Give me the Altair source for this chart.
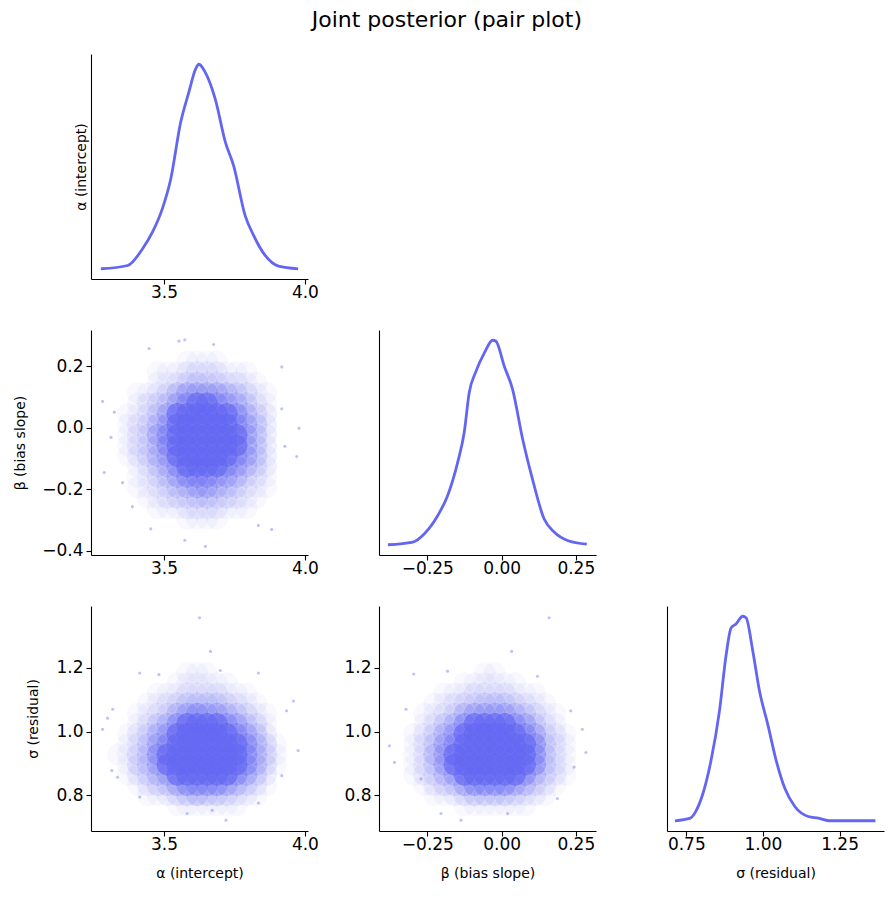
import altair as alt
import pandas as pd

TITLE = "Joint posterior (pair plot)"
LABEL_A = "α (intercept)"
LABEL_B = "β (bias slope)"
LABEL_S = "σ (residual)"
COLOR = "#6366f1"
FONT = "DejaVu Sans"

# ---- marginal KDE curves (relative height) ----
A_KDE_X = [3.276, 3.371, 3.424, 3.459, 3.494, 3.524, 3.559, 3.588, 3.612, 3.624, 3.647,
           3.682, 3.718, 3.747, 3.788, 3.818, 3.859, 3.906, 3.976]
A_KDE_Y = [0.0, 0.016, 0.098, 0.179, 0.293, 0.439, 0.715, 0.862, 0.976, 1.0, 0.959,
           0.829, 0.618, 0.504, 0.260, 0.163, 0.065, 0.013, 0.0]

B_KDE_X = [-0.383, -0.299, -0.260, -0.215, -0.182, -0.148, -0.126, -0.109, -0.086, -0.058,
           -0.030, -0.019, 0.009, 0.037, 0.071, 0.104, 0.143, 0.177, 0.222, 0.287]
B_KDE_Y = [0.0, 0.013, 0.054, 0.143, 0.240, 0.403, 0.549, 0.744, 0.849, 0.938,
           1.0, 0.995, 0.873, 0.760, 0.516, 0.321, 0.127, 0.062, 0.021, 0.003]

S_KDE_X = [0.713, 0.763, 0.781, 0.803, 0.830, 0.858, 0.880, 0.896, 0.912, 0.934, 0.945,
           0.967, 0.989, 1.016, 1.044, 1.071, 1.104, 1.148, 1.181, 1.219, 1.367]
S_KDE_Y = [0.0, 0.013, 0.046, 0.127, 0.290, 0.535, 0.812, 0.943, 0.962, 1.0, 0.992,
           0.829, 0.633, 0.470, 0.290, 0.160, 0.070, 0.021, 0.013, 0.0, 0.0]

# ---- axis domains and ticks ----
A_DOMAIN = [3.241, 4.011]
B_DOMAIN = [-0.413, 0.318]
S_DOMAIN = [0.687, 1.395]
KDE_DOMAIN = [-0.05, 1.05]
A_TICKS = [3.5, 4.0]
B_TICKS_X = [-0.25, 0.0, 0.25]
B_TICKS_Y = [-0.4, -0.2, 0.0, 0.2]
S_TICKS_X = [0.75, 1.0, 1.25]
S_TICKS_Y = [0.8, 1.0, 1.2]

# ---- density grids of the sample clouds (0 = empty, 9 = solid) ----
A_EDGES = [3.285, 3.32, 3.355, 3.39, 3.425, 3.46, 3.495, 3.53, 3.565, 3.60, 3.635,
           3.67, 3.705, 3.74, 3.775, 3.81, 3.845, 3.88, 3.915, 3.95, 3.985]
B_EDGES = [-0.38, -0.346, -0.312, -0.278, -0.244, -0.21, -0.176, -0.142, -0.108, -0.074,
           -0.04, -0.006, 0.028, 0.062, 0.096, 0.13, 0.164, 0.198, 0.232, 0.266, 0.30]
S_EDGES = [0.72, 0.752, 0.784, 0.816, 0.848, 0.88, 0.912, 0.944, 0.976, 1.008, 1.04,
           1.072, 1.104, 1.136, 1.168, 1.20, 1.232, 1.264, 1.296, 1.328, 1.36]

# rows run from the top (highest y) down, columns from left to right
AB_GRID = [
    "00000000000000000000",
    "00000000000000000000",
    "00000000111100000000",
    "00000111222211100000",
    "00000112343322110000",
    "00011235666654311000",
    "00012346788765421000",
    "00112468898887532000",
    "00123568999987642000",
    "00123678999988642000",
    "00123578999988642000",
    "00123568999887642000",
    "00012457888876532000",
    "00011346777665321000",
    "00011234566543211000",
    "00001123344332110000",
    "00000111222211100000",
    "00000000111100000000",
    "00000000000000000000",
    "00000000000000000000",
]
AS_GRID = [
    "00000000000000000000",
    "00000000000000000000",
    "00000000000000000000",
    "00000000000000000000",
    "00000000000000000000",
    "00000000111000000000",
    "00000001111110000000",
    "00000111222211100000",
    "00001123444432110000",
    "00011235676654311000",
    "00012457888876431000",
    "00123568999887642000",
    "00124679999998753100",
    "01134789999998753100",
    "00134689999998753100",
    "00123568999887642000",
    "00012346777765321000",
    "00001123454432210000",
    "00000001111111000000",
    "00000000000000000000",
]
BS_GRID = [
    "00000000000000000000",
    "00000000000000000000",
    "00000000000000000000",
    "00000000000000000000",
    "00000000000000000000",
    "00000000011000000000",
    "00000001111110000000",
    "00000111222211100000",
    "00001123344432110000",
    "00011235666654311000",
    "00012457888876421000",
    "00123568899887632100",
    "00124678999998742100",
    "00125689999998742100",
    "00124689999998742100",
    "00123568899887532100",
    "00012346777765321000",
    "00001123444432210000",
    "00000001111111000000",
    "00000000000000000000",
]

# ---- scattered single samples outside the dense cloud ----
AB_OUT_A = [3.282, 3.312, 3.288, 3.447, 3.553, 3.574, 3.676, 3.918, 3.979, 3.971, 3.929,
            3.882, 3.835, 3.574, 3.647, 3.453, 3.388, 3.353, 3.324, 3.918]
AB_OUT_B = [0.086, -0.031, -0.145, 0.258, 0.282, 0.286, 0.271, 0.198, -0.001, -0.093, -0.06,
            -0.33, -0.317, -0.365, -0.385, -0.328, -0.256, -0.178, 0.051, 0.062]
AS_OUT_A = [3.626, 3.665, 3.282, 3.300, 3.318, 3.335, 3.315, 3.959, 3.976, 3.935, 3.918,
            3.835, 3.720, 3.582, 3.414, 3.482, 3.700, 3.835, 3.414, 3.671]
AS_OUT_S = [1.358, 1.252, 1.007, 1.042, 1.070, 0.856, 0.877, 1.096, 0.940, 1.065, 0.861,
            0.775, 0.721, 0.742, 1.184, 1.179, 1.192, 1.184, 0.794, 0.752]
BS_OUT_B = [0.160, 0.034, -0.378, -0.361, -0.296, -0.322, -0.204, -0.137, 0.020, 0.284,
            0.272, 0.233, 0.121, 0.188, -0.182, 0.244, -0.271]
BS_OUT_S = [1.358, 1.252, 0.955, 0.903, 1.181, 1.070, 0.742, 0.721, 0.742, 0.934,
            1.007, 1.065, 1.174, 0.789, 1.190, 0.888, 0.851]

W, H = 217, 225
GLYPH_SIZE = 480      # heavily overlapping soft glyphs, one per grid cell
OVERLAP = 4.7         # roughly how many glyphs cover one spot


def grid_frame(grid, x_edges, y_edges):
    rows = []
    n = len(grid)
    for i, line in enumerate(grid):
        yi = n - 1 - i
        for j, ch in enumerate(line):
            d = int(ch)
            if d > 0:
                target = min(0.995, 1.1 * (d / 9.0) ** 0.8)
                rows.append({"x": (x_edges[j] + x_edges[j + 1]) / 2,
                             "y": (y_edges[yi] + y_edges[yi + 1]) / 2,
                             "o": 1 - (1 - target) ** (1.0 / OVERLAP)})
    return pd.DataFrame(rows)


def scale(domain):
    return alt.Scale(domain=domain, nice=False, zero=False)


def axis(ticks, fmt, title, **kw):
    if title:
        return alt.Axis(values=ticks, format=fmt, title=title, **kw)
    return alt.Axis(values=ticks, format=fmt, title=None, **kw)


def scatter(grid, xe, ye, ox, oy, xdom, ydom, xt, xf, yt, yf, xtitle, ytitle, ytp=6):
    cells = grid_frame(grid, xe, ye)
    pts = pd.DataFrame({"x": ox, "y": oy})
    xa = axis(xt, xf, xtitle)
    ya = axis(yt, yf, ytitle, titlePadding=ytp)
    cloud = alt.Chart(cells).mark_circle(color=COLOR, size=GLYPH_SIZE).encode(
        x=alt.X("x:Q", scale=scale(xdom), axis=xa),
        y=alt.Y("y:Q", scale=scale(ydom), axis=ya),
        opacity=alt.Opacity("o:Q", scale=None, legend=None),
    )
    dots = alt.Chart(pts).mark_circle(color=COLOR, size=10, opacity=0.4).encode(
        x=alt.X("x:Q", scale=scale(xdom)),
        y=alt.Y("y:Q", scale=scale(ydom)),
    )
    return alt.layer(cloud, dots).properties(width=W, height=H)


def diag(kx, ky, xdom, xt, xf, xtitle, ytitle):
    df = pd.DataFrame({"x": kx, "y": ky})
    if ytitle:
        ya = alt.Axis(ticks=False, labels=False, title=ytitle, titlePadding=3)
    else:
        ya = alt.Axis(ticks=False, labels=False, title=None)
    return alt.Chart(df).mark_line(color=COLOR, strokeWidth=2.8, interpolate="monotone").encode(
        x=alt.X("x:Q", scale=scale(xdom), axis=axis(xt, xf, xtitle)),
        y=alt.Y("y:Q", scale=scale(KDE_DOMAIN), axis=ya),
    ).properties(width=W, height=H)


def empty():
    df = pd.DataFrame({"v": [0]})
    return alt.Chart(df).mark_point(opacity=0).encode(
        x=alt.X("v:Q", axis=None), y=alt.Y("v:Q", axis=None)
    ).properties(width=W, height=H)


cells = [
    diag(A_KDE_X, A_KDE_Y, A_DOMAIN, A_TICKS, ".1f", None, LABEL_A),
    empty(),
    empty(),
    scatter(AB_GRID, A_EDGES, B_EDGES, AB_OUT_A, AB_OUT_B, A_DOMAIN, B_DOMAIN,
            A_TICKS, ".1f", B_TICKS_Y, ".1f", None, LABEL_B, ytp=14),
    diag(B_KDE_X, B_KDE_Y, B_DOMAIN, B_TICKS_X, ".2f", None, None),
    empty(),
    scatter(AS_GRID, A_EDGES, S_EDGES, AS_OUT_A, AS_OUT_S, A_DOMAIN, S_DOMAIN,
            A_TICKS, ".1f", S_TICKS_Y, ".1f", LABEL_A, LABEL_S, ytp=15),
    scatter(BS_GRID, B_EDGES, S_EDGES, BS_OUT_B, BS_OUT_S, B_DOMAIN, S_DOMAIN,
            B_TICKS_X, ".2f", S_TICKS_Y, ".1f", LABEL_B, None),
    diag(S_KDE_X, S_KDE_Y, S_DOMAIN, S_TICKS_X, ".2f", LABEL_S, None),
]

chart = alt.concat(
    *cells,
    columns=3,
    spacing={"row": 51, "column": 71},
    bounds="flush",
    title=alt.TitleParams(TITLE, fontSize=22, font=FONT, fontWeight="normal",
                          anchor="middle", color="black", offset=22, dx=-2),
).configure_view(stroke=None).configure_axis(
    labelFont=FONT, titleFont=FONT, labelFontSize=17, titleFontSize=14,
    titleFontWeight="normal", labelColor="black", titleColor="black",
    domainColor="black", tickColor="black", tickSize=5, domainWidth=1.1, tickWidth=1.1,
    grid=False, titlePadding=5, labelFlush=False, labelOverlap=False,
).configure_axisX(labelPadding=0, titlePadding=14).configure_axisY(labelPadding=3).properties(
    background="white", padding={"left": 13, "top": 9, "right": 5, "bottom": 5}
)

chart.save("out.html", embed_options={"renderer": "svg", "actions": False})
